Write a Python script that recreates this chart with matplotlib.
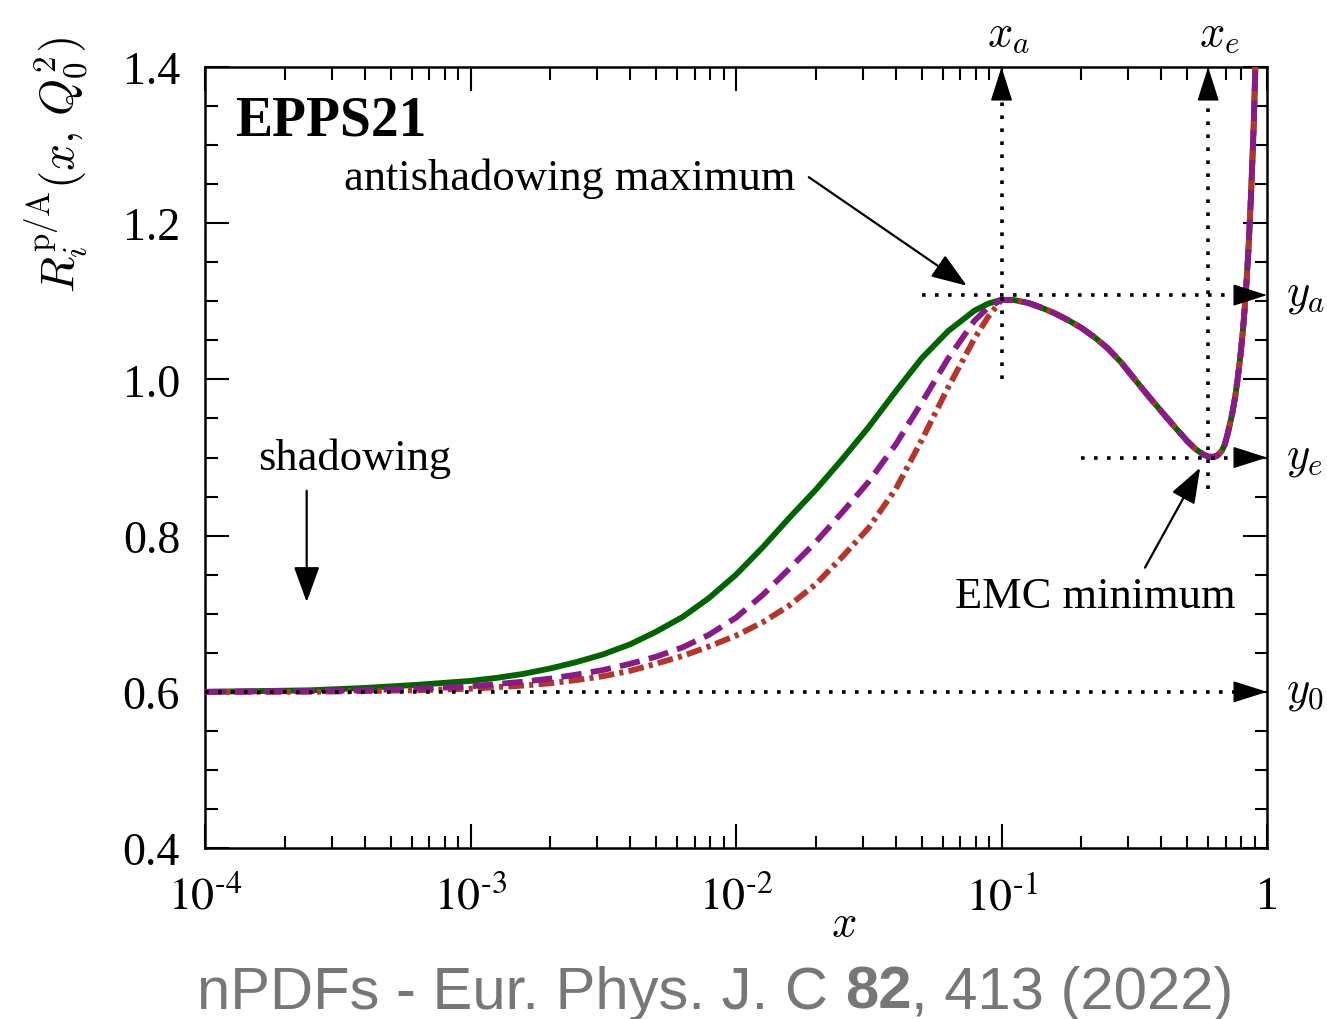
import matplotlib
matplotlib.use("Agg")
import matplotlib.pyplot as plt
from matplotlib.ticker import (FixedLocator, FixedFormatter, MultipleLocator,
                               FormatStrFormatter, LogLocator, NullFormatter)

plt.rcParams.update({
    'font.family': ['Liberation Serif', 'DejaVu Serif'],
    'mathtext.fontset': 'stix',
    'font.size': 32,
})

# small-x branch of the three parametrisations, up to the antishadowing peak
x_low = [1e-4, 2.5e-4, 4e-4, 6.3e-4, 1e-3, 1.26e-3, 1.58e-3, 2e-3, 2.5e-3, 3.16e-3,
         4e-3, 5e-3, 6.3e-3, 7.9e-3, 1e-2, 1.26e-2, 1.58e-2, 2e-2, 2.5e-2, 3.16e-2,
         4e-2, 5e-2, 6.3e-2, 7.9e-2, 8.9e-2, 0.1]
r_solid = [0.600, 0.602, 0.605, 0.609, 0.614, 0.618, 0.623, 0.630, 0.638, 0.648,
           0.661, 0.677, 0.696, 0.720, 0.750, 0.785, 0.822, 0.859, 0.897, 0.939,
           0.985, 1.027, 1.062, 1.088, 1.097, 1.102]
r_dashed = [0.600, 0.601, 0.602, 0.604, 0.607, 0.610, 0.613, 0.617, 0.622, 0.628,
            0.636, 0.645, 0.657, 0.673, 0.695, 0.724, 0.757, 0.792, 0.829, 0.869,
            0.917, 0.970, 1.027, 1.075, 1.092, 1.102]
r_dashdot = [0.600, 0.600, 0.601, 0.602, 0.604, 0.606, 0.608, 0.611, 0.615, 0.620,
             0.627, 0.636, 0.646, 0.658, 0.672, 0.689, 0.710, 0.738, 0.772, 0.810,
             0.860, 0.922, 0.990, 1.052, 1.080, 1.102]

# common large-x branch: antishadowing peak -> EMC dip -> Fermi motion rise
x_high = [0.1, 0.112, 0.126, 0.141, 0.158, 0.178, 0.2, 0.224, 0.251, 0.282, 0.316,
          0.355, 0.398, 0.447, 0.501, 0.537, 0.575, 0.603, 0.631, 0.646, 0.661,
          0.676, 0.692, 0.708, 0.724, 0.741, 0.759, 0.776, 0.794, 0.813, 0.832,
          0.851, 0.871, 0.891, 0.902, 0.912]
r_high = [1.102, 1.1015, 1.098, 1.092, 1.085, 1.076, 1.066, 1.054, 1.040, 1.022,
          1.001, 0.980, 0.960, 0.940, 0.921, 0.911, 0.904, 0.901, 0.901, 0.902,
          0.905, 0.909, 0.916, 0.928, 0.942, 0.958, 0.978, 1.002, 1.030, 1.066,
          1.110, 1.165, 1.238, 1.325, 1.390, 1.460]

# anchor points y0, xa/ya, xe/ye
y0 = 0.6
xa, ya = 0.1, 1.108
xe, ye = 0.6, 0.9

x_ticks = [1e-4, 1e-3, 1e-2, 1e-1, 1]
x_tick_labels = [r'$10^{\text{-}4}$', r'$10^{\text{-}3}$', r'$10^{\text{-}2}$',
                 r'$10^{\text{-}1}$', '1']
y_ticks = [0.4, 0.6, 0.8, 1.0, 1.2, 1.4]

fig = plt.figure(figsize=(13.27, 10.20), dpi=100)
ax = fig.add_axes([0.1545, 0.1676, 0.8003, 0.7657])

x_all = x_low + x_high[1:]
ax.plot(x_all, r_solid + r_high[1:], color='#006400', lw=4.2, zorder=3)
ax.plot(x_all, r_dashdot + r_high[1:], color='#b5352a', lw=4.2, zorder=4,
        dashes=(2.7, 0.9, 0.7, 0.9))
ax.plot(x_all, r_dashed + r_high[1:], color='#8b1a89', lw=4.2, zorder=5,
        dashes=(3.5, 1.6))

ax.set_xscale('log')
ax.set_xlim(1e-4, 1)
ax.set_ylim(0.4, 1.4)

ax.xaxis.set_major_locator(FixedLocator(x_ticks))
ax.xaxis.set_major_formatter(FixedFormatter(x_tick_labels))
ax.xaxis.set_minor_locator(LogLocator(base=10, subs=range(2, 10)))
ax.xaxis.set_minor_formatter(NullFormatter())
ax.yaxis.set_major_locator(FixedLocator(y_ticks))
ax.yaxis.set_major_formatter(FormatStrFormatter('%.1f'))
ax.yaxis.set_minor_locator(MultipleLocator(0.05))

ax.tick_params(which='both', direction='in', top=True, right=True, width=1.5,
               labelsize=33)
ax.tick_params(which='major', length=17)
ax.tick_params(which='minor', length=9)
ax.tick_params(axis='y', pad=18)
ax.tick_params(axis='x', pad=20)
for s in ax.spines.values():
    s.set_linewidth(1.8)

# dotted guide lines
dot = dict(color='k', lw=2.6, ls=(0, (1, 2.6)), zorder=6)
ax.plot([1e-4, 0.8], [y0, y0], **dot)
ax.plot([0.05, 0.8], [ya, ya], **dot)
ax.plot([0.2, 0.8], [ye, ye], **dot)
ax.plot([xa, xa], [1.0, 1.36], **dot)
ax.plot([xe, xe], [0.86, 1.36], **dot)

head = dict(arrowstyle='-|>,head_length=1.1,head_width=0.35', mutation_scale=20,
            color='k', lw=1, shrinkA=0, shrinkB=0)
for yv in (y0, ya, ye):
    ax.annotate('', xy=(1, yv), xycoords=('axes fraction', 'data'),
                xytext=(-23, 0), textcoords='offset points', arrowprops=head, zorder=7)
for xv in (xa, xe):
    ax.annotate('', xy=(xv, 1), xycoords=('data', 'axes fraction'),
                xytext=(0, -23), textcoords='offset points', arrowprops=head, zorder=7)

# annotations
pointer = dict(arrowstyle='-|>,head_length=1.1,head_width=0.4', mutation_scale=20,
               color='k', lw=1.6, shrinkA=0, shrinkB=0)
ax.annotate('', xy=(0.074, 1.120), xytext=(0.0188, 1.259), arrowprops=pointer)
ax.annotate('', xy=(0.56, 0.887), xytext=(0.347, 0.759), arrowprops=pointer)
ax.annotate('', xy=(2.415e-4, 0.715), xytext=(2.415e-4, 0.8575), arrowprops=pointer)

ax.text(1.297e-4, 1.314, 'EPPS21', fontweight='bold', fontsize=40, va='baseline')
ax.text(0.0167, 1.244, 'antishadowing maximum', ha='right', va='baseline')
ax.text(3.67e-4, 0.885, 'shadowing', ha='center', va='baseline')
ax.text(0.2254, 0.7086, 'EMC minimum', ha='center', va='baseline')

# labels of the anchor points, outside the frame
mlab = dict(math_fontfamily='cm', fontsize=32, clip_on=False)
ax.text(0.106, 1.4294, r'$x_a$', ha='center', va='baseline', **mlab)
ax.text(0.66, 1.4294, r'$x_e$', ha='center', va='baseline', **mlab)
for yv, lab in ((ya, r'$y_a$'), (ye, r'$y_e$'), (y0, r'$y_0$')):
    ax.text(1.018, yv, lab, transform=ax.get_yaxis_transform(), ha='left',
            va='center', **mlab)

ax.text(0.601, -0.097, r'$x$', transform=ax.transAxes, ha='center', va='center',
        **mlab)
ax.set_ylabel(r'$R_i^{\rm p/A}(x,\,Q_0^2)$', math_fontfamily='cm', fontsize=34)
ax.yaxis.set_label_coords(-0.108, 0.876)

# source line below the plot
cap = dict(family='Liberation Sans', fontsize=43, color='#777777')
t1 = fig.text(0.1485, 0.011, 'nPDFs - Eur. Phys. J. C ', va='baseline', **cap)
t2 = ax.annotate('82', xy=(1, 0), xycoords=t1, va='bottom', ha='left',
                 fontweight='bold', annotation_clip=False, **cap)
ax.annotate(', 413 (2022)', xy=(1, 0), xycoords=t2, va='bottom', ha='left',
            annotation_clip=False, **cap)

fig.savefig('out.png', dpi=100)
